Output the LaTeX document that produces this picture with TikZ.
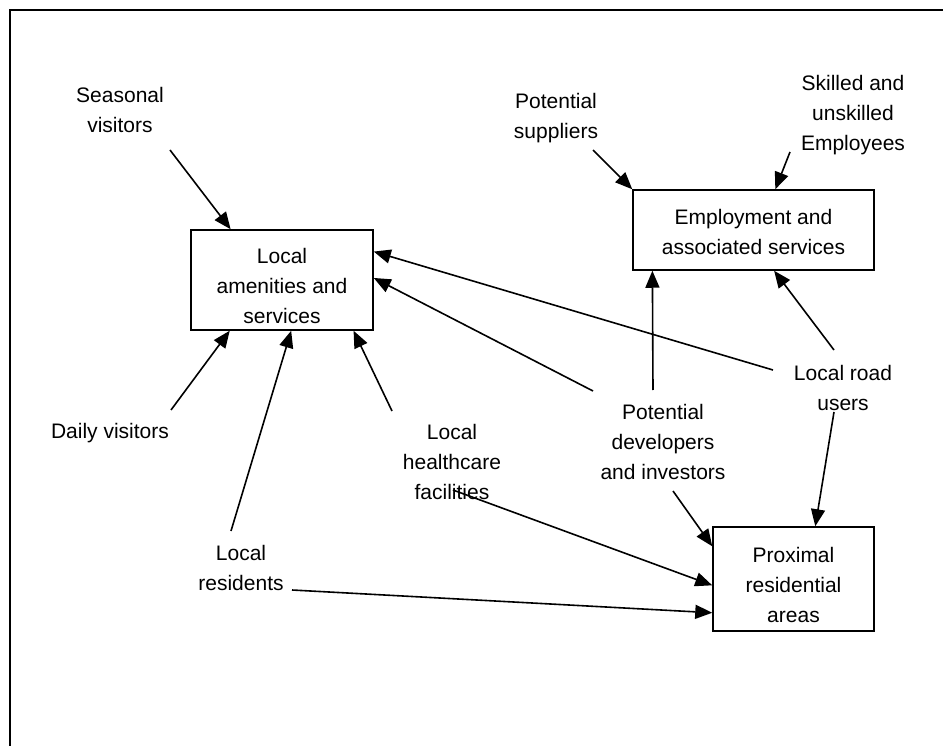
\documentclass[tikz,border=0pt]{standalone}
\usepackage{fontspec}
\setmainfont{Liberation Sans}
\usetikzlibrary{arrows.meta, calc}

\begin{document}
\begin{tikzpicture}[x=1pt, y=-1pt,
  box/.style={draw, line width=1.5pt, inner sep=0pt},
  lbl/.style={align=center, inner sep=0pt, font=\fontsize{21}{30}\selectfont},
  arr/.style={line width=1.6pt, -{Triangle[length=17pt, width=14pt]}}]
\useasboundingbox (0,0) rectangle (943,746);
% frame
\draw[line width=1.5pt] (943,10) -- (10,10) -- (10,746);

% boxes
\node[box, minimum width=182pt, minimum height=100pt] (amen) at (282,280) {};
\node[lbl] (amentxt) at ([yshift=-6pt]amen.center) {Local\\amenities and\\services};
\node[box, minimum width=241pt, minimum height=80pt] (emp) at (753.5,230) {};
\node[lbl] (emptxt) at ([yshift=-2pt]emp.center) {Employment and\\associated services};
\node[box, minimum width=161pt, minimum height=104pt] (prox) at (793.5,579) {};
\node[lbl] (proxtxt) at ([yshift=-6pt]prox.center) {Proximal\\residential\\areas};

% stakeholders
\node[lbl] (seasonal) at (120,110) {Seasonal\\visitors};
\node[lbl] (suppliers) at (556,118) {Potential\\suppliers};
\node[lbl] (skilled) at (853,115) {Skilled and\\unskilled\\Employees};
\node[lbl] (daily) at (110,433) {Daily visitors};
\node[lbl] (road) at (843,388) {Local road\\users};
\node[lbl] (developers) at (663,442) {Potential\\developers\\and investors};
\node[lbl] (health) at (452,462) {Local\\healthcare\\facilities};
\node[lbl] (residents) at (241,568) {Local\\residents};

% free ends of the connectors
\coordinate (s1) at (170,150);
\coordinate (s2) at (593,150);
\coordinate (s3) at (790,152);
\coordinate (d1) at (171,410);
\coordinate (r1) at (231,531);
\coordinate (r2) at (292,590);
\coordinate (h1) at (392,411);
\coordinate (h2) at (453,490);
\coordinate (p1) at (593,391);
\coordinate (p2) at (653,390);
\coordinate (p3) at (673,491);
\coordinate (u1) at (773,370);
\coordinate (u2) at (834,350);
\coordinate (u3) at (834,412);

% connectors
\draw[arr] (s1) -- ($(amen.north west)!0.22!(amen.north east)$);
\draw[arr] (s2) -- (emp.north west);
\draw[arr] (s3) -- ($(emp.north west)!0.59!(emp.north east)$);
\draw[arr] (d1) -- ($(amen.south west)!0.215!(amen.south east)$);
\draw[arr] (r1) -- ($(amen.south west)!0.55!(amen.south east)$);
\draw[arr] (h1) -- ($(amen.south west)!0.89!(amen.south east)$);
\draw[arr] (p1) -- ($(amen.north east)!0.48!(amen.south east)$);
\draw[arr] (u1) -- ($(amen.north east)!0.22!(amen.south east)$);
\draw[arr] (p2) -- ($(emp.south west)!0.083!(emp.south east)$);
\draw[arr] (u2) -- ($(emp.south west)!0.585!(emp.south east)$);
\draw[arr] (u3) -- ($(prox.north west)!0.634!(prox.north east)$);
\draw[arr] (p3) -- ($(prox.north west)!0.19!(prox.south west)$);
\draw[arr] (h2) -- ($(prox.north west)!0.56!(prox.south west)$);
\draw[arr] (r2) -- ($(prox.north west)!0.82!(prox.south west)$);
\end{tikzpicture}
\end{document}
